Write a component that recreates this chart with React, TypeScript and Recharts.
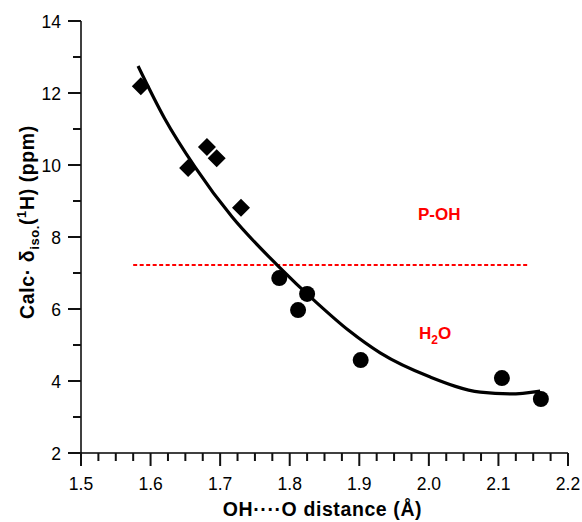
import React from 'react';
import {
  ComposedChart,
  XAxis,
  YAxis,
  Line,
  Scatter,
  ReferenceLine,
  ReferenceDot,
} from 'recharts';

// P-OH points (diamonds)
const pohPoints = [
  { x: 1.586, y: 12.19 },
  { x: 1.654, y: 9.92 },
  { x: 1.681, y: 10.5 },
  { x: 1.695, y: 10.19 },
  { x: 1.73, y: 8.81 },
];

// H2O points (circles)
const waterPoints = [
  { x: 1.785, y: 6.86 },
  { x: 1.812, y: 5.97 },
  { x: 1.825, y: 6.42 },
  { x: 1.902, y: 4.58 },
  { x: 2.105, y: 4.08 },
  { x: 2.161, y: 3.5 },
];

// fitted curve
const fitCurve = [
  { x: 1.582, y: 12.75 },
  { x: 1.62, y: 11.3 },
  { x: 1.664, y: 9.94 },
  { x: 1.717, y: 8.56 },
  { x: 1.782, y: 7.22 },
  { x: 1.839, y: 6.17 },
  { x: 1.885, y: 5.4 },
  { x: 1.93, y: 4.78 },
  { x: 2.002, y: 4.11 },
  { x: 2.074, y: 3.69 },
  { x: 2.117, y: 3.64 },
  { x: 2.16, y: 3.72 },
];

const thresholdY = 7.22;
const thresholdX = [1.575, 2.143];

const xTicks = [
  1.5, 1.525, 1.55, 1.575, 1.6, 1.625, 1.65, 1.675, 1.7, 1.725, 1.75, 1.775,
  1.8, 1.825, 1.85, 1.875, 1.9, 1.925, 1.95, 1.975, 2.0, 2.025, 2.05, 2.075,
  2.1, 2.125, 2.15, 2.175, 2.2,
];
const yTicks = [2, 3, 4, 5, 6, 7, 8, 9, 10, 11, 12, 13, 14];

const FONT = '"Liberation Sans", Arial, Helvetica, sans-serif';
const TICK_W = 2;

const isMajorX = (v: number) => Math.abs(v * 10 - Math.round(v * 10)) < 1e-6;

const renderXTick = (props: any) => {
  const { x, y, payload } = props;
  const v = Number(payload.value);
  const major = isMajorX(v);
  const len = major ? 13 : 8;
  return (
    <g>
      <rect x={x - TICK_W / 2} y={y} width={TICK_W} height={len} fill="#111" />
      {major && (
        <text x={x} y={y + 37} textAnchor="middle" fontFamily={FONT} fontSize={17.5} fill="#000">
          {v.toFixed(1)}
        </text>
      )}
    </g>
  );
};

const renderYTick = (props: any) => {
  const { x, y, payload } = props;
  const v = Number(payload.value);
  const major = v % 2 === 0;
  const len = major ? 13 : 8;
  return (
    <g>
      <rect x={x - len} y={y - TICK_W / 2} width={len} height={TICK_W} fill="#111" />
      {major && (
        <text x={x - 20} y={y + 6.5} textAnchor="end" fontFamily={FONT} fontSize={17.5} fill="#000">
          {v}
        </text>
      )}
    </g>
  );
};

const Diamond = (props: any) => {
  const { cx, cy } = props;
  const r = 9;
  return (
    <polygon
      points={`${cx},${cy - r} ${cx + r},${cy} ${cx},${cy + r} ${cx - r},${cy}`}
      fill="#000"
    />
  );
};

const Circle = (props: any) => {
  const { cx, cy } = props;
  return <circle cx={cx} cy={cy} r={8} fill="#000" />;
};

const XTitle = (props: any) => {
  const { viewBox } = props;
  const cx = viewBox.x + viewBox.width / 2 - 2;
  return (
    <text
      x={cx}
      y={516}
      textAnchor="middle"
      fontFamily={FONT}
      fontWeight="bold"
      fontSize={19.5}
      letterSpacing={0.6}
      fill="#000"
    >
      OH····O distance (Å)
    </text>
  );
};

const YTitle = () => {
  const cx = 34;
  const cy = 222;
  return (
    <text
      x={cx}
      y={cy}
      transform={`rotate(-90 ${cx} ${cy})`}
      textAnchor="middle"
      fontFamily={FONT}
      fontWeight="bold"
      fontSize={19.5}
      letterSpacing={0.6}
      fill="#000"
    >
      Calc· δ
      <tspan fontSize={13} dy={5}>iso.</tspan>
      <tspan dy={-5}>(</tspan>
      <tspan fontSize={13} dy={-8}>1</tspan>
      <tspan dy={8}>H) (ppm)</tspan>
    </text>
  );
};

const PohLabel = (props: any) => {
  const { viewBox } = props;
  const cx = viewBox.x + viewBox.width / 2;
  const cy = viewBox.y + viewBox.height / 2;
  return (
    <text x={cx} y={cy + 6} textAnchor="middle" fontFamily={FONT} fontWeight="bold" fontSize={17} fill="#ff0000">
      P-OH
    </text>
  );
};

const WaterLabel = (props: any) => {
  const { viewBox } = props;
  const cx = viewBox.x + viewBox.width / 2;
  const cy = viewBox.y + viewBox.height / 2;
  return (
    <text x={cx} y={cy + 6} textAnchor="middle" fontFamily={FONT} fontWeight="bold" fontSize={17} fill="#ff0000">
      H
      <tspan fontSize={12} dy={5}>2</tspan>
      <tspan dy={-5}>O</tspan>
    </text>
  );
};

export default function App() {
  return (
    <div style={{ position: 'absolute', left: 0, top: 0, background: '#fff' }}>
      <ComposedChart
        width={582}
        height={522}
        margin={{ top: 21, right: 14, left: 0, bottom: 0 }}
      >
        <XAxis
          dataKey="x"
          type="number"
          domain={[1.5, 2.2]}
          ticks={xTicks}
          interval={0}
          tick={renderXTick}
          tickLine={false}
          tickSize={0}
          tickMargin={0}
          axisLine={{ stroke: '#000', strokeWidth: 1.5 }}
          height={69}
          label={<XTitle />}
        />
        <YAxis
          dataKey="y"
          type="number"
          domain={[2, 14]}
          ticks={yTicks}
          interval={0}
          tick={renderYTick}
          tickLine={false}
          tickSize={0}
          tickMargin={0}
          axisLine={{ stroke: '#000', strokeWidth: 1.5 }}
          width={81}
          label={<YTitle />}
        />
        <ReferenceLine
          segment={[
            { x: thresholdX[0], y: thresholdY },
            { x: thresholdX[1], y: thresholdY },
          ]}
          stroke="#ff0000"
          strokeWidth={2}
          strokeDasharray="4 2.5"
        />
        <Line
          data={fitCurve}
          dataKey="y"
          type="monotone"
          stroke="#000"
          strokeWidth={3.2}
          dot={false}
          activeDot={false}
          isAnimationActive={false}
        />
        <Scatter data={pohPoints} dataKey="y" shape={<Diamond />} isAnimationActive={false} />
        <Scatter data={waterPoints} dataKey="y" shape={<Circle />} isAnimationActive={false} />
        <ReferenceDot x={2.015} y={8.64} r={1} fill="none" stroke="none" label={<PohLabel />} />
        <ReferenceDot x={2.009} y={5.33} r={1} fill="none" stroke="none" label={<WaterLabel />} />
      </ComposedChart>
    </div>
  );
}
